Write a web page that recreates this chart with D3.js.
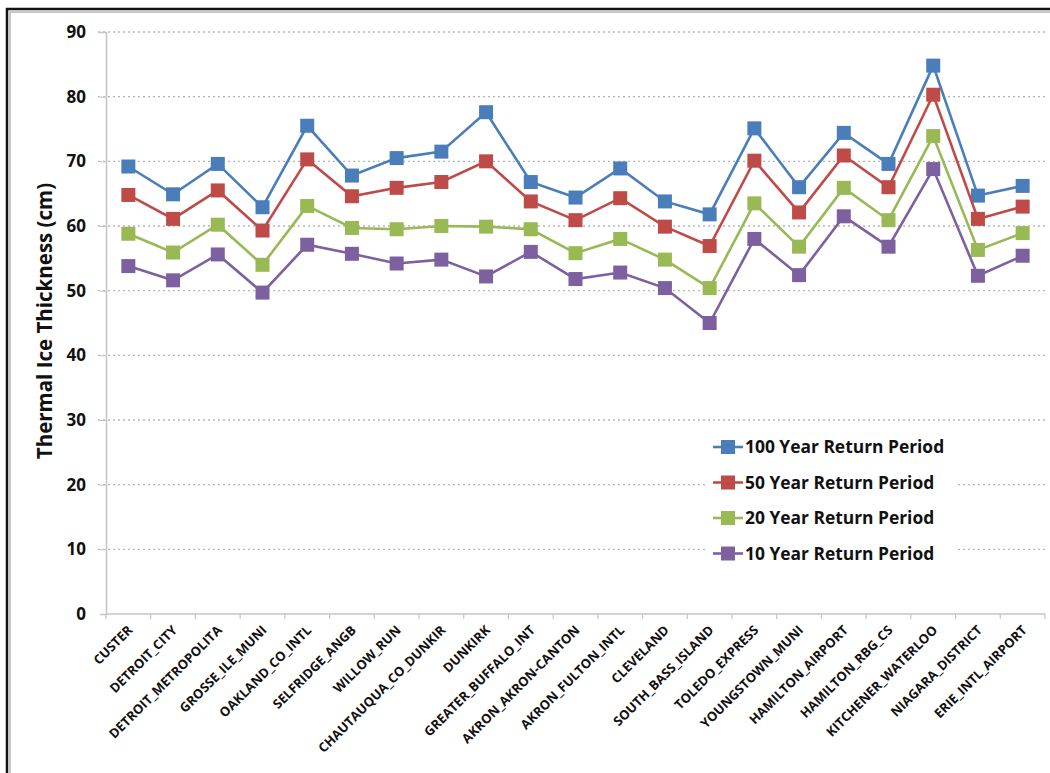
<!DOCTYPE html>
<html>
<head>
<meta charset="utf-8">
<script src="https://cdn.jsdelivr.net/npm/d3@7"></script>
<style>
  html, body { margin: 0; padding: 0; background: #fff; }
  svg { display: block; font-family: "Open Sans", Lato, sans-serif; }
</style>
</head>
<body>
<svg id="chart" width="1050" height="773"></svg>
<script>
// stations along the x axis
const stations = [
  "CUSTER", "DETROIT_CITY", "DETROIT_METROPOLITA", "GROSSE_ILE_MUNI", "OAKLAND_CO_INTL",
  "SELFRIDGE_ANGB", "WILLOW_RUN", "CHAUTAUQUA_CO_DUNKIR", "DUNKIRK", "GREATER_BUFFALO_INT",
  "AKRON_AKRON-CANTON", "AKRON_FULTON_INTL", "CLEVELAND", "SOUTH_BASS_ISLAND", "TOLEDO_EXPRESS",
  "YOUNGSTOWN_MUNI", "HAMILTON_AIRPORT", "HAMILTON_RBG_CS", "KITCHENER_WATERLOO",
  "NIAGARA_DISTRICT", "ERIE_INTL_AIRPORT"
];

// thermal ice thickness (cm) per return period
const rp100 = [69.2, 64.9, 69.6, 62.9, 75.5, 67.8, 70.5, 71.5, 77.6, 66.8, 64.4, 68.9, 63.8, 61.8, 75.1, 66.0, 74.4, 69.6, 84.8, 64.7, 66.2];
const rp50  = [64.8, 61.1, 65.5, 59.3, 70.3, 64.6, 65.9, 66.8, 70.0, 63.8, 60.9, 64.3, 59.9, 56.9, 70.1, 62.1, 70.9, 66.0, 80.3, 61.1, 63.0];
const rp20  = [58.8, 55.9, 60.2, 54.0, 63.1, 59.7, 59.5, 60.0, 59.9, 59.5, 55.8, 58.0, 54.8, 50.4, 63.5, 56.8, 65.9, 60.9, 73.9, 56.3, 58.9];
const rp10  = [53.8, 51.6, 55.6, 49.7, 57.1, 55.7, 54.2, 54.8, 52.2, 56.0, 51.8, 52.8, 50.4, 45.0, 58.0, 52.4, 61.5, 56.8, 68.8, 52.3, 55.4];

const seriesNames = ["100 Year Return Period", "50 Year Return Period", "20 Year Return Period", "10 Year Return Period"];
const seriesColors = ["#4a7ebb", "#be4b48", "#98b954", "#7d60a0"];
const yTicks = [0, 10, 20, 30, 40, 50, 60, 70, 80, 90];

const series = [rp100, rp50, rp20, rp10].map((vals, i) => ({
  name: seriesNames[i], color: seriesColors[i], values: vals
}));

const svg = d3.select("#chart");
const plot = { left: 106, right: 1045, top: 32, bottom: 614 };

// outer frame: only left and top edges are visible in the picture
svg.append("path").attr("d", "M10,773 V12 H1050").attr("fill", "none").attr("stroke", "#c8c8c8").attr("stroke-width", 2);
svg.append("path").attr("d", "M7,773 V9 H1050").attr("fill", "none").attr("stroke", "#111").attr("stroke-width", 2.5);

const x = d3.scaleBand().domain(stations).range([plot.left, plot.right]);
const y = d3.scaleLinear().domain([0, 90]).range([plot.bottom, plot.top]);

// gridlines (dotted)
svg.append("g").selectAll("line").data(yTicks.filter(t => t > 0)).enter().append("line")
  .attr("x1", plot.left - 8).attr("x2", plot.right)
  .attr("y1", d => y(d)).attr("y2", d => y(d))
  .attr("stroke", "#b5b5b5").attr("stroke-width", 1.3).attr("stroke-dasharray", "2,3");

// y axis
const yAxis = svg.append("g").attr("transform", `translate(${plot.left},0)`)
  .call(d3.axisLeft(y).tickValues(yTicks).tickSize(6).tickPadding(14));
yAxis.select(".domain").attr("stroke", "#c4c4c4").attr("stroke-width", 1.5);
yAxis.selectAll(".tick line").attr("stroke", "#c4c4c4");
yAxis.selectAll(".tick text").attr("fill", "#111").style("font-size", "17px").style("font-weight", "700")
  .attr("font-family", "'Open Sans', sans-serif");

// x axis with ticks at band boundaries
const xAxisG = svg.append("g").attr("transform", `translate(0,${plot.bottom})`);
xAxisG.append("line").attr("x1", plot.left).attr("x2", plot.right).attr("y1", 0).attr("y2", 0)
  .attr("stroke", "#c4c4c4").attr("stroke-width", 1.5);
const bounds = stations.map(s => x(s)).concat([plot.right]);
xAxisG.selectAll("line.tk").data(bounds).enter().append("line").attr("class", "tk")
  .attr("x1", d => d).attr("x2", d => d).attr("y1", 0).attr("y2", 5)
  .attr("stroke", "#c4c4c4").attr("stroke-width", 1.2);
xAxisG.selectAll("text").data(stations).enter().append("text")
  .attr("transform", d => `translate(${x(d) + x.bandwidth() / 2 + 5},${17}) rotate(-45)`)
  .attr("text-anchor", "end")
  .attr("fill", "#111").style("font-size", "13px").style("font-weight", "700")
  .text(d => d);

// y title
svg.append("text")
  .attr("transform", `translate(52,${(plot.top + plot.bottom) / 2 - 2}) rotate(-90)`)
  .attr("text-anchor", "middle").attr("fill", "#111")
  .style("font-size", "20.5px").style("font-weight", "700")
  .text("Thermal Ice Thickness (cm)");

// lines and markers
const line = d3.line().x((d, i) => x(stations[i]) + x.bandwidth() / 2).y(d => y(d));
const sg = svg.append("g").selectAll("g").data(series).enter().append("g");
sg.append("path").attr("d", d => line(d.values)).attr("fill", "none")
  .attr("stroke", d => d.color).attr("stroke-width", 2.6);
sg.each(function(s) {
  d3.select(this).selectAll("rect").data(s.values).enter().append("rect")
    .attr("x", (d, i) => x(stations[i]) + x.bandwidth() / 2 - 7)
    .attr("y", d => y(d) - 7)
    .attr("width", 14).attr("height", 14)
    .attr("fill", s.color);
});

// legend
const legend = svg.append("g").attr("transform", "translate(705,428)");
legend.append("rect").attr("x", 0).attr("y", 0).attr("width", 252).attr("height", 145).attr("fill", "#fff");
const rows = legend.selectAll("g").data(series).enter().append("g")
  .attr("transform", (d, i) => `translate(0,${19 + i * 35.5})`);
rows.append("line").attr("x1", 8).attr("x2", 38).attr("y1", 0).attr("y2", 0)
  .attr("stroke", d => d.color).attr("stroke-width", 2.6);
rows.append("rect").attr("x", 16).attr("y", -7).attr("width", 14).attr("height", 14).attr("fill", d => d.color);
rows.append("text").attr("x", 40).attr("y", 6).attr("fill", "#111")
  .style("font-size", "17.4px").style("font-weight", "700").text(d => d.name);
</script>
</body>
</html>
